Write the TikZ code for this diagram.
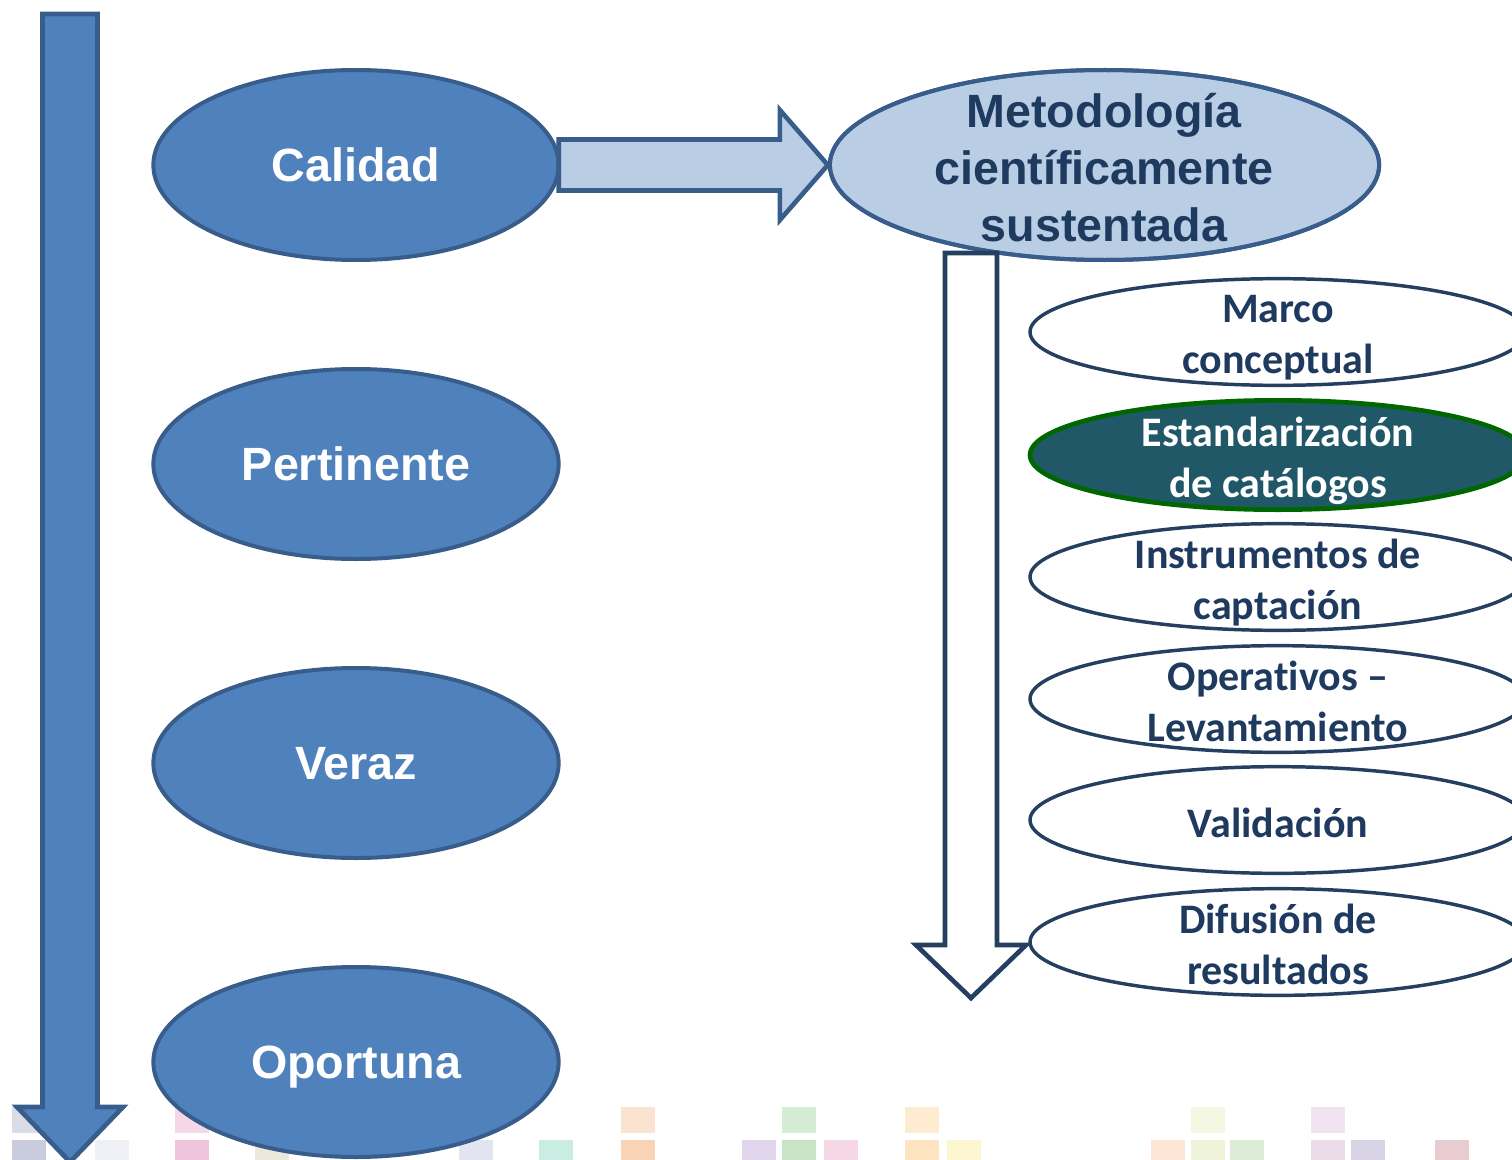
\documentclass[tikz,border=0pt]{standalone}
\usepackage{fontspec}
\setmainfont{Liberation Sans}
\newfontfamily\calibrifont[Ligatures=NoCommon]{Carlito}
\usetikzlibrary{shapes.geometric,calc}
\definecolor{lfill}{HTML}{4F81BD}
\definecolor{ldraw}{HTML}{385D8A}
\definecolor{pfill}{HTML}{B9CDE5}
\definecolor{navy}{HTML}{243F60}
\definecolor{tnavy}{HTML}{1F3A5F}
\definecolor{teal}{HTML}{215868}
\definecolor{dgreen}{HTML}{006600}
\definecolor{sqa}{HTML}{C8CCDC}
\definecolor{sqb}{HTML}{EEF0F5}
\definecolor{sqc}{HTML}{EFC4DD}
\definecolor{sqd}{HTML}{EDE8DC}
\definecolor{sqe}{HTML}{E2E5F0}
\definecolor{sqf}{HTML}{C9EDE3}
\definecolor{sqg}{HTML}{F9D3B5}
\definecolor{sqh}{HTML}{E0D5EA}
\definecolor{sqi}{HTML}{C8E3C6}
\definecolor{sqj}{HTML}{F6D7E6}
\definecolor{sqk}{HTML}{FDE3C0}
\definecolor{sql}{HTML}{FBF5D0}
\definecolor{sqm}{HTML}{FCE5D5}
\definecolor{sqn}{HTML}{EFF3DA}
\definecolor{sqo}{HTML}{DCEBD6}
\definecolor{sqp}{HTML}{EADCE8}
\definecolor{sqq}{HTML}{D9D3E6}
\definecolor{sqr}{HTML}{E8CCCF}
\definecolor{sqs}{HTML}{DADCE6}
\definecolor{sqt}{HTML}{F5D8E8}
\definecolor{squ}{HTML}{FAE3D0}
\definecolor{sqv}{HTML}{D5EBD3}
\definecolor{sqw}{HTML}{FDEBD2}
\definecolor{sqx}{HTML}{F4F7E2}
\definecolor{sqy}{HTML}{F0E4F0}
\begin{document}
\begin{tikzpicture}[x=0.75pt,y=-0.75pt,
  lell/.style={ellipse,draw=ldraw,fill=lfill,line width=3pt,inner sep=0pt,
    minimum width=304pt,minimum height=142.5pt},
  ltext/.style={text=white,text depth=0pt,font=\bfseries\fontsize{35}{43}\selectfont},
  mell/.style={ellipse,draw=ldraw,fill=pfill,line width=3pt,inner sep=0pt,
    minimum width=412pt,minimum height=142.5pt},
  mtext/.style={text=tnavy,align=center,font=\bfseries\fontsize{35}{42.75}\selectfont},
  rell/.style={ellipse,draw=navy,fill=white,line width=2.6pt,inner sep=0pt,
    minimum width=372pt,minimum height=80pt},
  rtext/.style={text=tnavy,align=center,text depth=0pt,yshift=-2pt,font=\calibrifont\bfseries\fontsize{31.5}{38.25}\selectfont},
  barrow/.style={draw=ldraw,fill=pfill,line width=3.5pt,line join=miter},
  larrow/.style={draw=ldraw,fill=lfill,line width=3.5pt,line join=miter},
  warrow/.style={draw=navy,fill=white,line width=3.5pt,line join=miter}]
\useasboundingbox (0,0) rectangle (1512,1159);
\clip (0,0) rectangle (1512,1159);
% faint background squares
\foreach \x/\c in {12/sqa,95/sqb,175/sqc,255/sqd,459/sqe,539/sqf,621/sqg,742/sqh,782/sqi,824/sqj,905/sqk,947/sql,1151/sqm,1191/sqn,1230/sqo,1311/sqp,1351/sqq,1435/sqr}
  \fill[\c] (\x,1140) rectangle ++(34,25);
\foreach \x/\c in {12/sqs,175/sqt,621/squ,782/sqv,905/sqw,1191/sqx,1311/sqy}
  \fill[\c] (\x,1107) rectangle ++(34,26);
% left arrow
\coordinate (ltop) at (70,14);
\coordinate (ltip) at (70,1162);
\draw[larrow] ($(ltop)+(-27.5,0)$) -- ($(ltop)+(27.5,0)$) -- ($(ltip)+(27.5,-55)$) -- ($(ltip)+(53,-55)$) -- (ltip) -- ($(ltip)+(-53,-55)$) -- ($(ltip)+(-27.5,-55)$) -- cycle;
% left ellipses
\node[lell,label={[ltext,name=calT]center:Calidad}] (cal) at (356,165) {};
\node[lell,label={[ltext,name=perT]center:Pertinente}] (per) at (356,464) {};
\node[lell,label={[ltext,name=verT]center:Veraz}] (ver) at (356,763) {};
\node[lell,label={[ltext,name=opoT]center:Oportuna}] (opo) at (356,1062) {};
% methodology
\node[mell] (met) at (1104.5,165) {};
% block arrow Calidad -> Metodologia
\draw[barrow] ($(cal.east)+(-2,-25.5)$) -- ($(met.west)+(-48,-25.5)$) -- ($(met.west)+(-48,-55)$) -- (met.west) -- ($(met.west)+(-48,55)$) -- ($(met.west)+(-48,25.5)$) -- ($(cal.east)+(-2,25.5)$) -- cycle;
\node[mell,fill=none] (metB) at (met) {};
\node[mtext] (metT) at (1104,168) {Metodología\\científicamente\\sustentada};
% down arrow
\coordinate (dtop) at (971,253);
\coordinate (dtip) at (971,998);
\draw[warrow] ($(dtop)+(-26,0)$) -- ($(dtop)+(26,0)$) -- ($(dtip)+(26,-53)$) -- ($(dtip)+(55,-53)$) -- (dtip) -- ($(dtip)+(-55,-53)$) -- ($(dtip)+(-26,-53)$) -- cycle;
% right ellipses
\node[rell,label={[rtext,name=marT]center:Marco\\conceptual}] (mar) at (1278,332) {};
\node[rell,draw=dgreen,fill=teal,line width=3.5pt,minimum height=82pt,
  label={[rtext,text=white,name=estT]center:Estandarización\\de catálogos}] (est) at (1278,455) {};
\node[rell,label={[rtext,name=insT]center:Instrumentos de\\captación}] (ins) at (1278,577) {};
\node[rell,label={[rtext,name=opeT]center:Operat\kern0pt ivos –\\Levantamiento}] (ope) at (1278,699) {};
\node[rell,label={[rtext,name=valT]center:Validación}] (val) at (1278,820) {};
\node[rell,label={[rtext,name=difT]center:Difusión de\\resultados}] (dif) at (1278,942) {};
\end{tikzpicture}
\end{document}
